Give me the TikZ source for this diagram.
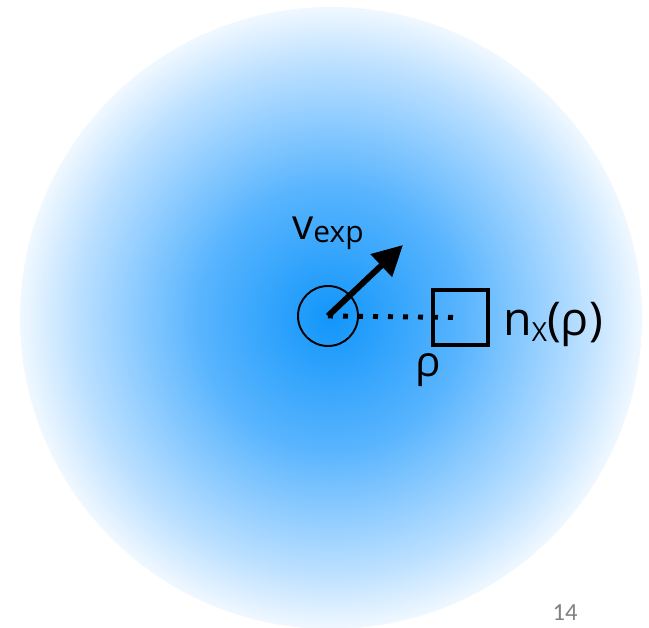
\documentclass[tikz,border=0pt]{standalone}
\usepackage{fontspec}
\setmainfont{Open Sans}
\newfontfamily\pagefont{Carlito}
\usetikzlibrary{arrows.meta, positioning}

\definecolor{glowA}{RGB}{18,150,250}
\definecolor{glowB}{RGB}{88,180,254}
\definecolor{glowC}{RGB}{188,224,255}
\definecolor{glowD}{RGB}{240,248,255}
\pgfdeclareradialshading{glow}{\pgfpoint{0bp}{0bp}}{%
  color(0bp)=(glowA); color(10.5bp)=(glowB); color(20.5bp)=(glowC);
  color(25bp)=(glowD); color(50bp)=(glowD)}

\begin{document}
\begin{tikzpicture}[
  src/.style={draw, circle, line width=1.1pt, minimum size=1.2cm, inner sep=0pt},
  cell/.style={draw, rectangle, line width=2pt, minimum size=1.1cm, inner sep=0pt},
  vec/.style={line width=3.4pt, -{Triangle[length=0.6cm, width=0.6cm]}},
  sep/.style={line width=2.8pt, dash pattern=on 0.1cm off 0.2cm},
  lbl/.style={inner sep=0pt, anchor=base west},
]
\useasboundingbox (0,0) rectangle (12.98,-12.56);

% blue cloud
\shade[shading=glow] (6.62,-6.36) circle (6.22);

\node[src]  (source) at (6.56,-6.32) {};
\node[cell] (box)    at (9.21,-6.35) {};
\coordinate (tip) at (8.06,-4.90);

\draw[sep] (source.center) -- (box.center);
\draw[vec] (source.center) -- (tip);

\node[lbl] (vlabel) at (5.84,-4.80) {\fontsize{24}{24}\selectfont v\raisebox{-0.05em}{\fontsize{17}{17}\selectfont exp}};
\node[lbl] (nlabel) at (10.06,-6.70) {\fontsize{26.5}{26.5}\selectfont n\raisebox{-0.15em}{\fontsize{15}{15}\selectfont X}(ρ)};
\node[inner sep=0pt, anchor=base] (rlabel) at (8.56,-7.54) {\fontsize{24}{24}\selectfont ρ};

\node[inner sep=0pt, anchor=base, text=gray] (page) at (11.30,-12.40) {\pagefont\fontsize{14}{14}\selectfont 14};
\end{tikzpicture}
\end{document}
